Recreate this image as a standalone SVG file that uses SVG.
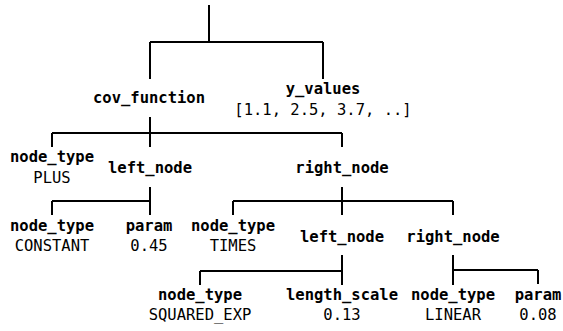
<svg xmlns="http://www.w3.org/2000/svg" width="563" height="331" viewBox="0 0 563 331">
<style>
.c{fill:none;stroke:#000;stroke-width:2;stroke-linecap:butt}
text{font-family:"DejaVu Sans Mono","Liberation Mono",monospace;font-size:15.5px;fill:#000;text-anchor:middle}
.k{font-weight:bold}
</style>
<rect width="563" height="331" fill="#fff"/>
<g id="connectors" class="c">
<path d="M209 5V42M150 42H323M150 42V79M323 42V79"/>
<path d="M150 117V147M52 133H342M52 133V147M342 133V147"/>
<path d="M150 187V215M52 201H150M52 201V215"/>
<path d="M342 187V215M233 201H453M233 201V215M453 201V215"/>
<path d="M342 255V285M200 271H342M200 271V285"/>
<path d="M453 255V285M453 270H538M538 270V284"/>
</g>
<g id="cov_function"><text class="k" x="149" y="103">cov_function</text></g>
<g id="y_values"><text class="k" x="323" y="94">y_values</text><text x="323" y="115">[1.1, 2.5, 3.7, ..]</text></g>
<g id="node_type_plus"><text class="k" x="52" y="162">node_type</text><text x="52" y="183">PLUS</text></g>
<g id="left_node_1"><text class="k" x="150" y="173">left_node</text></g>
<g id="right_node_1"><text class="k" x="342" y="173">right_node</text></g>
<g id="node_type_constant"><text class="k" x="52" y="231">node_type</text><text x="52" y="251">CONSTANT</text></g>
<g id="param_045"><text class="k" x="149" y="231">param</text><text x="149" y="251">0.45</text></g>
<g id="node_type_times"><text class="k" x="233" y="231">node_type</text><text x="233" y="251">TIMES</text></g>
<g id="left_node_2"><text class="k" x="342" y="242">left_node</text></g>
<g id="right_node_2"><text class="k" x="453" y="242">right_node</text></g>
<g id="node_type_sqexp"><text class="k" x="200" y="300">node_type</text><text x="200" y="320">SQUARED_EXP</text></g>
<g id="length_scale"><text class="k" x="342" y="300">length_scale</text><text x="342" y="320">0.13</text></g>
<g id="node_type_linear"><text class="k" x="453" y="300">node_type</text><text x="453" y="320">LINEAR</text></g>
<g id="param_008"><text class="k" x="538" y="300">param</text><text x="538" y="320">0.08</text></g>
</svg>
